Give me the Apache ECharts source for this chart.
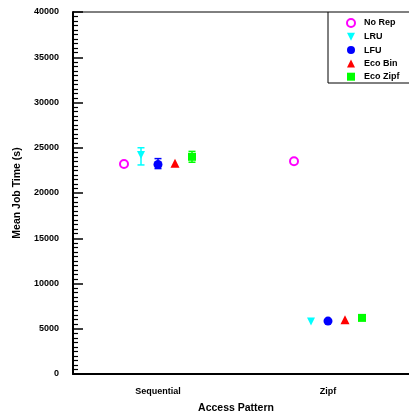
<!DOCTYPE html>
<html><head><meta charset="utf-8">
<script src="https://cdn.jsdelivr.net/npm/echarts@6/dist/echarts.min.js"></script>
<style>html,body{margin:0;padding:0;background:#fff}#c{width:409px;height:414px}</style>
</head><body><div id="c"></div>
<script>
var categories = ['Sequential', 'Zipf'];
var seriesNames = ['No Rep', 'LRU', 'LFU', 'Eco Bin', 'Eco Zipf'];
var noRep   = [23200, 23500];
var lru     = [24200, 5800];
var lfu     = [23150, 5850];
var ecoBin  = [23300, 6000];
var ecoZipf = [24000, 6200];
// error bars (Sequential group only): [low, high]
var lruErr     = [[23100, 25000], null];
var lfuErr     = [[22700, 23800], null];
var ecoZipfErr = [[23400, 24600], null];
var yTicks = [0, 5000, 10000, 15000, 20000, 25000, 30000, 35000, 40000];

var values = [noRep, lru, lfu, ecoBin, ecoZipf];
var errs = [null, lruErr, lfuErr, null, ecoZipfErr];
var offsets = [-0.2, -0.1, 0, 0.1, 0.2];
var colors = ['#ff00ff', '#00ffff', '#0000ff', '#ff0000', '#00ff00'];
var symbols = ['emptyCircle', 'path://M0,0 L10,0 L5,10 Z', 'circle', 'triangle', 'rect'];
var sizes = [8, 8, 9, 9, 8];
var font = 'Liberation Sans, Arial, sans-serif';

var series = [];
values.forEach(function (vals, s) {
  series.push({
    name: seriesNames[s], type: 'scatter', xAxisIndex: 1,
    symbol: symbols[s], symbolSize: sizes[s],
    itemStyle: { color: colors[s], borderColor: colors[s], borderWidth: s === 0 ? 1.6 : 0, opacity: 1 },
    data: vals.map(function (v, i) { return [i + 1 + offsets[s], v]; }),
    z: 3
  });
  if (errs[s]) {
    var ed = [];
    errs[s].forEach(function (e, i) { if (e) ed.push([i + 1 + offsets[s], e[0], e[1]]); });
    series.push({
      type: 'custom', xAxisIndex: 1, silent: true, z: 2,
      data: ed,
      renderItem: (function (col) {
        return function (params, api) {
          var lo = api.coord([api.value(0), api.value(1)]);
          var hi = api.coord([api.value(0), api.value(2)]);
          var w = 3.5;
          var st = { stroke: col, lineWidth: 1.5 };
          return { type: 'group', children: [
            { type: 'line', shape: { x1: lo[0], y1: lo[1], x2: hi[0], y2: hi[1] }, style: st },
            { type: 'line', shape: { x1: lo[0] - w, y1: lo[1], x2: lo[0] + w, y2: lo[1] }, style: st },
            { type: 'line', shape: { x1: hi[0] - w, y1: hi[1], x2: hi[0] + w, y2: hi[1] }, style: st }
          ]};
        };
      })(colors[s])
    });
  }
});

var chart = echarts.init(document.getElementById('c'), null, { renderer: 'canvas' });
chart.setOption({
  animation: false,
  backgroundColor: '#fff',
  grid: { left: 73, width: 340, top: 12, height: 362, outerBoundsMode: 'none', containLabel: false,
    show: true, borderColor: '#000', borderWidth: 1, backgroundColor: 'transparent' },
  xAxis: [{
    type: 'category', data: categories, boundaryGap: true,
    name: 'Access Pattern', nameLocation: 'middle', nameGap: 29,
    nameTextStyle: { fontFamily: font, fontWeight: 'bold', fontSize: 10.5, color: '#000', padding: [0, 14, 0, 0] },
    axisLine: { lineStyle: { color: '#000', width: 2 } },
    axisTick: { inside: true, alignWithLabel: true, length: 9, lineStyle: { color: '#000', width: 1.5 } },
    axisLabel: { fontFamily: font, fontWeight: 'bold', fontSize: 9, color: '#000', margin: 13 },
    splitLine: { show: false }
  }, {
    type: 'value', min: 0.5, max: 2.5, show: false
  }],
  yAxis: {
    type: 'value', min: yTicks[0], max: yTicks[yTicks.length - 1], interval: yTicks[1] - yTicks[0],
    name: 'Mean Job Time (s)', nameLocation: 'middle', nameGap: 47, nameRotate: 90,
    nameTextStyle: { fontFamily: font, fontWeight: 'bold', fontSize: 10.5, color: '#000' },
    axisLine: { show: true, lineStyle: { color: '#000', width: 2 } },
    axisTick: { inside: true, length: 10, lineStyle: { color: '#000', width: 1.5 } },
    minorTick: { show: true, splitNumber: 10, length: 5, lineStyle: { color: '#000', width: 1.2 } },
    axisLabel: { fontFamily: font, fontWeight: 'bold', fontSize: 9, color: '#000', margin: 14,
      formatter: function (v) { return String(v); } },
    splitLine: { show: false }
  },
  legend: {
    orient: 'vertical', left: 341, top: 13,
    data: seriesNames, itemWidth: 8, itemHeight: 8, itemGap: 4.3,
    textStyle: { fontFamily: font, fontWeight: 'bold', fontSize: 9, color: '#000', padding: [0, 0, 0, 4] }
  },
  graphic: [{
    type: 'polyline', shape: { points: [[500, 83], [328, 83], [328, 12]] },
    style: { fill: 'none', stroke: '#000', lineWidth: 1 }, z: 10
  }],
  series: series
});
</script></body></html>
